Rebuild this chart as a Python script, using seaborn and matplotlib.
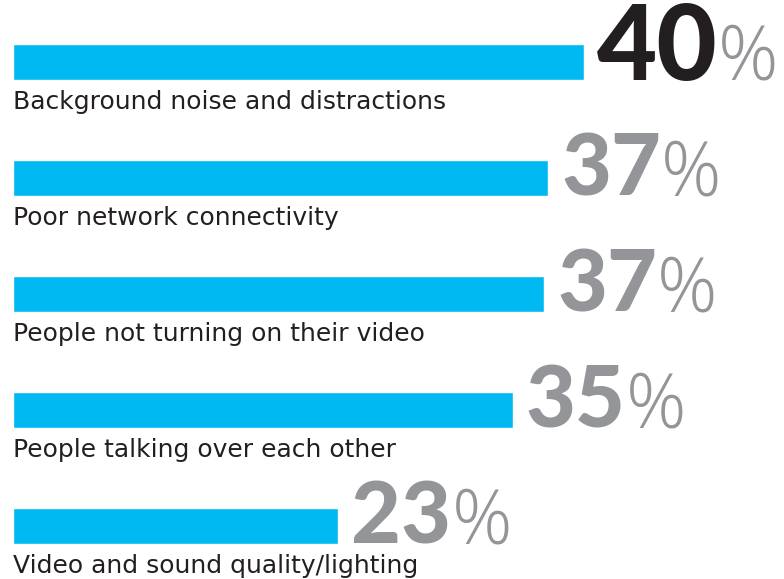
import matplotlib
matplotlib.use('Agg')
import matplotlib.pyplot as plt
import seaborn as sns
import pandas as pd

categories = [
    "Background noise and distractions",
    "Poor network connectivity",
    "People not turning on their video",
    "People talking over each other",
    "Video and sound quality/lighting",
]
values = [40.0, 37.5, 37.2, 35.0, 22.8]
value_labels = ["40", "37", "37", "35", "23"]
highlight = [True, False, False, False, False]

sns.set_theme(style='white')
plt.rcParams['font.family'] = ['Lato', 'DejaVu Sans']

fig = plt.figure(figsize=(7.84, 5.79), dpi=100)
ax = fig.add_axes([0, 0, 1, 1])
df = pd.DataFrame({'cat': categories, 'val': values})
sns.barplot(data=df, x='val', y='cat', orient='h', color='#00B9F2',
            saturation=1, width=0.31, ax=ax)
ax.set_xlim(-0.911, 54.01)
ax.set_ylim(4.457, -0.534)
ax.axis('off')

PT = 0.72  # points per pixel at 100 dpi
half = 0.155
for i, (v, lab, hl, cat) in enumerate(zip(values, value_labels, highlight, categories)):
    yb = i + half
    num = ax.annotate(lab, xy=(v, yb), xytext=(13 * PT, 0), textcoords='offset points',
                      ha='left', va='baseline', fontsize=75 if hl else 62,
                      fontweight='black', color='#231f20' if hl else '#939598',
                      family=['Lato', 'DejaVu Sans'])
    ax.annotate('%', xy=(1, yb), xycoords=(num, 'data'), xytext=(0, 0),
                textcoords='offset points', ha='left', va='baseline',
                fontsize=54, fontweight='light', color='#939598',
                family=['Open Sans', 'DejaVu Sans'])
    ax.annotate(cat, xy=(0, yb), xytext=(0, -29 * PT), textcoords='offset points',
                ha='left', va='baseline', fontsize=18, color='#231f20',
                family=['DejaVu Sans'])

fig.savefig('out.png', dpi=100)
